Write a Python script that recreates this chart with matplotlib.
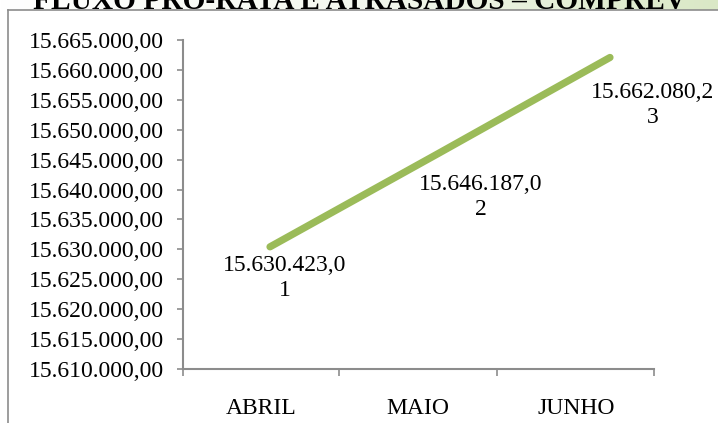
import matplotlib
matplotlib.use("Agg")
import matplotlib.pyplot as plt
import numpy as np
from matplotlib.lines import Line2D
from matplotlib.colors import LinearSegmentedColormap

# --- data -------------------------------------------------------------
months = ["ABRIL", "MAIO", "JUNHO"]
values = [15630423.01, 15646187.02, 15662080.23]
value_labels = ["15.630.423,0\n1", "15.646.187,0\n2", "15.662.080,2\n3"]
y_ticks = list(range(15610000, 15665001, 5000))
title = "FLUXO PRÓ-RATA E ATRASADOS – COMPREV"

W, H, DPI = 718, 423, 100
plt.rcParams["font.family"] = ["Liberation Serif", "DejaVu Serif"]

fig = plt.figure(figsize=(W / DPI, H / DPI), dpi=DPI)
fig.patch.set_facecolor("white")


def fx(px):
    return px / W


def fy(py):
    return 1 - py / H


# title band with a white-to-light-green gradient
band = fig.add_axes([0, fy(10), 1, 10 / H])
band.set_axis_off()
grad = np.linspace(0, 1, 256)[None, :]
cmap = LinearSegmentedColormap.from_list("band", ["#ffffff", "#f4f8ef", "#dae8c6"])
band.imshow(grad, aspect="auto", cmap=cmap, extent=[0, 1, 0, 1])

t = fig.text(fx(33), fy(9), title, fontsize=28, fontweight="bold",
             ha="left", va="baseline", color="black")
fig.canvas.draw()
bb = t.get_window_extent()
t.set_fontsize(28 * 652 / bb.width)

# chart frame
frame_color = "#8c8c8c"
fig.add_artist(Line2D([fx(8), 1], [fy(10), fy(10)], color=frame_color, lw=1.2))
fig.add_artist(Line2D([fx(8), fx(8)], [fy(10), 0], color=frame_color, lw=1.2))

# plot area
left, right, top, bottom = 183, 654, 40, 369
ax = fig.add_axes([fx(left), fy(bottom), fx(right - left), (bottom - top) / H])

x = np.arange(len(months))
# point positions: first at 270 px, last at 610 px
unit = (610 - 270) / 2
ax.set_xlim((left - 270) / unit, (right - 270) / unit)
ax.set_ylim(y_ticks[0], y_ticks[-1])

ax.plot(x, values, color="#9bbb59", lw=5.2, solid_capstyle="round", zorder=3)

# data labels (below-right of each point), offsets in pixels
offsets = [(15, -31), (41, -44), (43, -48)]
for xi, v, lab, (dx, dy) in zip(x, values, value_labels, offsets):
    ax.annotate(lab, (xi, v), xytext=(dx * 0.72, dy * 0.72),
                textcoords="offset points", ha="center", va="center",
                fontsize=17, linespacing=1.25, annotation_clip=False)

# y axis
ax.set_yticks(y_ticks)
ax.set_yticklabels([f"{v:,.2f}".replace(",", "X").replace(".", ",").replace("X", ".")
                    for v in y_ticks])
ax.tick_params(axis="y", length=4, width=1.2, color=frame_color, pad=10,
               labelsize=17)

# x axis: boundary ticks and category labels
bounds_px = [left, 339, 497, right]
ax.set_xticks([(b - 270) / unit for b in bounds_px])
ax.set_xticklabels([])
ax.tick_params(axis="x", length=5, width=1.2, color=frame_color)
label_px = [261, 418, 576]
ax.set_xticks([(p - 270) / unit for p in label_px], minor=True)
ax.set_xticklabels(months, minor=True)
ax.tick_params(axis="x", which="minor", length=0, pad=21, labelsize=17)

for side in ("top", "right"):
    ax.spines[side].set_visible(False)
for side in ("left", "bottom"):
    ax.spines[side].set_color(frame_color)
    ax.spines[side].set_linewidth(1.5)

fig.savefig("out.png", dpi=DPI)
